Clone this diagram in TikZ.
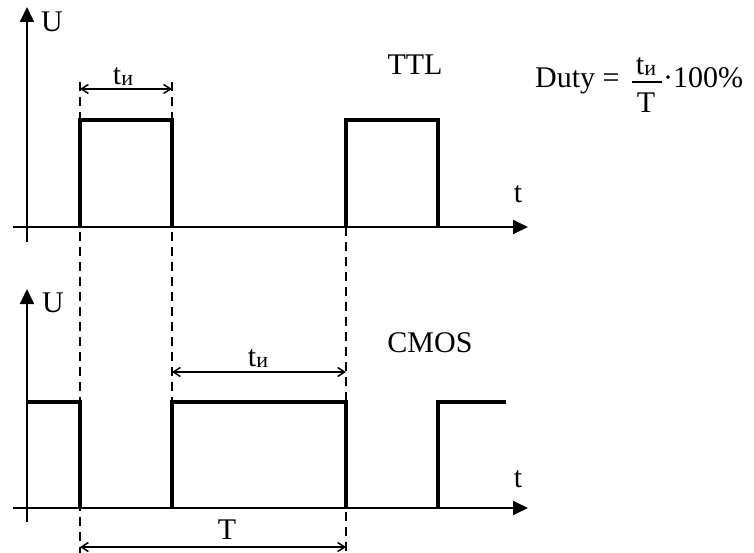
\documentclass[tikz,border=0pt]{standalone}
\usepackage{fontspec}
\setmainfont{Liberation Serif}
\usetikzlibrary{arrows.meta}
\newcommand\tIlabel{{\fontsize{30}{36}\selectfont t}\raisebox{-1pt}{\fontsize{22}{26}\selectfont и}}
\begin{document}
\begin{tikzpicture}[x=1pt,y=-1pt,
  axis/.style={line width=1.8pt,-{Triangle[length=15pt,width=14pt]}},
  pulse/.style={line width=4pt},
  guide/.style={line width=2.2pt,dash pattern=on 9pt off 6pt},
  dim/.style={line width=1.5pt,{Straight Barb[length=7pt,width=9pt]}-{Straight Barb[length=7pt,width=9pt]}},
  lbl/.style={inner sep=0pt,font=\fontsize{30}{36}\selectfont},
  sublbl/.style={inner sep=0pt}]
\useasboundingbox (0,0) rectangle (754,553);
% coordinates
\coordinate (ay1s) at (27,242); \coordinate (ay1e) at (27,7);
\coordinate (ax1s) at (13,227); \coordinate (ax1e) at (528,227);
\coordinate (ay2s) at (27,522); \coordinate (ay2e) at (27,289);
\coordinate (ax2s) at (13,508); \coordinate (ax2e) at (528,508);
% guides
\coordinate (g1a) at (80,82);  \coordinate (g1b) at (80,553);
\coordinate (g2a) at (172,82); \coordinate (g2b) at (172,402);
\coordinate (g3a) at (346,227); \coordinate (g3b) at (346,553);
\draw[guide] (g1a) -- (g1b);
\draw[guide] (g2a) -- (g2b);
\draw[guide] (g3a) -- (g3b);
% axes
\draw[axis] (ay1s) -- (ay1e);
\draw[axis] (ax1s) -- (ax1e);
\draw[axis] (ay2s) -- (ay2e);
\draw[axis] (ax2s) -- (ax2e);
% TTL pulses
\draw[pulse] (80,227) -- (80,120) -- (172,120) -- (172,227);
\draw[pulse] (346,227) -- (346,120) -- (438,120) -- (438,227);
% CMOS pulses
\draw[pulse] (27,402) -- (80,402) -- (80,508);
\draw[pulse] (172,508) -- (172,402) -- (346,402) -- (346,508);
\draw[pulse] (438,508) -- (438,402) -- (506,402);
% dimension arrows
\coordinate (d1a) at (80,89);  \coordinate (d1b) at (172,89);
\coordinate (d2a) at (172,372); \coordinate (d2b) at (346,372);
\coordinate (d3a) at (80,547);  \coordinate (d3b) at (346,547);
\draw[dim] (d1a) -- (d1b);
\draw[dim] (d2a) -- (d2b);
\draw[dim] (d3a) -- (d3b);
% labels
\node[lbl,anchor=base] (U1) at (52,32) {U};
\node[lbl,anchor=base] (U2) at (53,312) {U};
\node[lbl,anchor=base] (t1) at (518,203) {t};
\node[lbl,anchor=base] (t2) at (518,487) {t};
\node[lbl,anchor=base] (ttl) at (415,75) {TTL};
\node[lbl,anchor=base] (cmos) at (430,352) {CMOS};
\node[sublbl,anchor=base] (ti1) at (123,85) {\tIlabel};
\node[sublbl,anchor=base] (ti2) at (258,366) {\tIlabel};
\node[lbl,anchor=base] (T) at (227,539) {T};
% duty formula
\node[lbl,anchor=base west] (duty) at (535,88) {Duty =};
\coordinate (barL) at (632,82); \coordinate (barR) at (662,82);
\draw[line width=1.3pt] (barL) -- (barR);
\node[sublbl,anchor=base] (num) at (646,75) {\tIlabel};
\node[lbl,anchor=base] (den) at (646,113) {T};
\node[lbl,anchor=base west] (pct) at (663,88) {·100\%};
\end{tikzpicture}
\end{document}
